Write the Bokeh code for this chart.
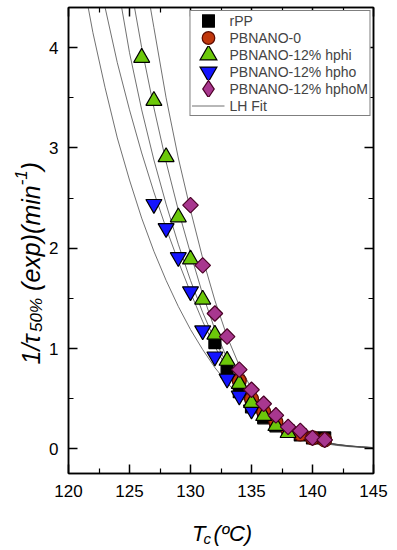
import math
from bokeh.plotting import figure
from bokeh.models import (Range1d, FixedTicker, LinearAxis, Legend, LegendItem, Label,
                          CustomLabelingPolicy)
from bokeh.layouts import row, column
from bokeh.embed import file_html
from bokeh.resources import INLINE

# ---------------- data ----------------
rpp_t = [132, 133, 134, 135, 136, 137, 138, 139, 140, 141]
rpp_v = [1.06, 0.77, 0.57, 0.42, 0.31, 0.23, 0.18, 0.14, 0.11, 0.11]

pb0_t = [134, 135, 136, 137, 138, 139, 140, 141]
pb0_v = [0.68, 0.50, 0.37, 0.27, 0.19, 0.15, 0.11, 0.09]

hphi_t = [126, 127, 128, 129, 130, 131, 132, 133, 134, 135, 136, 137, 138]
hphi_v = [3.90, 3.47, 2.91, 2.31, 1.89, 1.49, 1.14, 0.88, 0.65, 0.46, 0.33, 0.23, 0.16]

hpho_t = [127, 128, 129, 130, 131, 132, 133, 134, 135]
hpho_v = [2.44, 2.20, 1.91, 1.57, 1.18, 0.92, 0.70, 0.53, 0.39]

hphom_t = [130, 131, 132, 133, 134, 135, 136, 137, 138, 139, 140, 141]
hphom_v = [2.43, 1.83, 1.35, 1.12, 0.79, 0.59, 0.45, 0.335, 0.22, 0.18, 0.11, 0.09]

# LH fit curves
fit1_t = [121, 122, 123, 124, 125, 126, 127, 128, 129, 130, 131, 132, 133, 134, 135, 136, 137, 138, 139, 140, 141, 142, 143, 144, 145]
fit1_v = [4.80, 4.15, 3.60, 3.10, 2.68, 2.30, 1.97, 1.68, 1.42, 1.19, 0.99, 0.81, 0.66, 0.53, 0.42, 0.32, 0.24, 0.18, 0.13, 0.095, 0.066, 0.045, 0.030, 0.020, 0.013]

fit2_t = [122.5, 123, 124, 125, 126, 127, 128, 129, 130, 131, 132, 133, 134, 135, 136, 137, 138, 139, 140, 141, 142, 143, 144, 145]
fit2_v = [4.85, 4.40, 3.85, 3.38, 2.95, 2.56, 2.20, 1.87, 1.56, 1.27, 1.02, 0.80, 0.61, 0.46, 0.34, 0.25, 0.18, 0.13, 0.09, 0.063, 0.043, 0.029, 0.019, 0.012]

fit3_t = [124, 125, 126, 127, 128, 129, 130, 131, 132, 133, 134, 135, 136, 137, 138, 139, 140, 141, 142, 143, 144, 145]
fit3_v = [4.65, 3.95, 3.38, 2.88, 2.44, 2.04, 1.68, 1.36, 1.08, 0.84, 0.64, 0.48, 0.35, 0.25, 0.18, 0.13, 0.09, 0.06, 0.04, 0.027, 0.018, 0.011]

fit4_t = [125, 126, 127, 128, 129, 130, 131, 132, 133, 134, 135, 136, 137, 138, 139, 140, 141, 142, 143, 144, 145]
fit4_v = [4.68, 4.00, 3.40, 2.86, 2.38, 1.95, 1.54, 1.19, 0.90, 0.67, 0.49, 0.35, 0.25, 0.17, 0.12, 0.08, 0.053, 0.035, 0.023, 0.015, 0.010]

fit5_t = [126.5, 127, 128, 129, 130, 131, 132, 133, 134, 135, 136, 137, 138, 139, 140, 141, 142, 143, 144, 145]
fit5_v = [4.55, 4.20, 3.50, 2.90, 2.38, 1.90, 1.48, 1.12, 0.83, 0.60, 0.43, 0.30, 0.21, 0.145, 0.10, 0.068, 0.046, 0.031, 0.021, 0.014]

x_ticks = [120, 125, 130, 135, 140, 145]
x_minor = [122.5, 127.5, 132.5, 137.5, 142.5]
y_ticks = [0, 1, 2, 3, 4]
y_minor = [-0.5, 0.5, 1.5, 2.5, 3.5]

series_names = ["rPP", "PBNANO-0", "PBNANO-12% hphi", "PBNANO-12% hpho", "PBNANO-12% hphoM", "LH Fit"]
x_title = ["T", "c", "(ºC)"]
y_title = ["1/τ", "50%", "(exp)(min", "-1", ")"]

NAN = [float("nan")]

# ---------------- main figure ----------------
FONT = "Liberation Sans"
p = figure(width=351, height=505, output_backend="svg", toolbar_location=None,
           x_range=Range1d(120, 145), y_range=Range1d(-0.245, 4.40),
           min_border_left=22, min_border_right=24, min_border_top=7, min_border_bottom=32)
p.grid.visible = False
p.outline_line_color = "black"
p.outline_line_width = 1.5
p.background_fill_color = "white"
p.border_fill_color = "white"

def style_axis(ax, ticks, minor, show_labels, standoff=10):
    ax.ticker = FixedTicker(ticks=ticks, minor_ticks=minor)
    ax.axis_line_color = "black"
    ax.axis_line_width = 1.5
    ax.major_tick_in = 9
    ax.major_tick_out = 0
    ax.minor_tick_in = 5
    ax.minor_tick_out = 0
    ax.major_tick_line_width = 1.5
    ax.minor_tick_line_width = 1.2
    ax.major_tick_line_color = "black"
    ax.minor_tick_line_color = "black"
    if show_labels:
        ax.major_label_text_font = FONT
        ax.major_label_text_font_size = "17px"
        ax.major_label_text_color = "black"
        ax.major_label_standoff = standoff
    else:
        ax.major_label_policy = CustomLabelingPolicy(code="return new Set()")
        ax.major_label_text_font_size = "0px"
        ax.major_label_standoff = 0

style_axis(p.xaxis[0], x_ticks, x_minor, True, 11)
style_axis(p.yaxis[0], y_ticks, y_minor, True, 10)
top_ax = LinearAxis()
right_ax = LinearAxis()
style_axis(top_ax, x_ticks, x_minor, False)
style_axis(right_ax, y_ticks, y_minor, False)
p.add_layout(top_ax, "above")
p.add_layout(right_ax, "right")

# fit lines
fit_renderers = []
for ft, fv in [(fit1_t, fit1_v), (fit2_t, fit2_v), (fit3_t, fit3_v), (fit4_t, fit4_v), (fit5_t, fit5_v)]:
    r = p.line(ft, fv, line_color="#4d4d4d", line_width=0.8)
    fit_renderers.append(r)

C_PB0, E_PB0 = "#c0370c", "#5a0a00"
C_HPHI = "#6cc80a"
C_HPHO = "#1414ff"
C_HPHOM, E_HPHOM = "#a8378f", "#4a0025"

r_rpp = p.scatter(rpp_t, rpp_v, marker="square", size=12, fill_color="black", line_color="black", line_width=1.2)
r_pb0 = p.scatter(pb0_t, pb0_v, marker="circle", size=14, fill_color=C_PB0, line_color=E_PB0, line_width=1.2)
r_hpho = p.scatter(hpho_t, hpho_v, marker="inverted_triangle", size=16, fill_color=C_HPHO, line_color="black", line_width=1.2)
r_hphi = p.scatter(hphi_t, hphi_v, marker="triangle", size=16, fill_color=C_HPHI, line_color="black", line_width=1.2)
r_hphom = p.scatter(hphom_t, hphom_v, marker="square", angle=math.pi / 4, size=11, fill_color=C_HPHOM, line_color=E_HPHOM, line_width=1.2)

# legend swatches (no data points: NaN), drawn larger through thick mitred outlines
def swatch(marker, fill, edge, outer=7.0, inner=4.6):
    a = p.scatter(x=NAN, y=NAN, marker=marker, fill_color=fill, line_color=edge,
                  line_width=outer, line_join="miter")
    b = p.scatter(x=NAN, y=NAN, marker=marker, fill_color=fill, line_color=fill,
                  line_width=inner, line_join="miter")
    return [a, b]

legend = Legend(items=[
    LegendItem(label=series_names[0], renderers=swatch("square", "black", "black", 6.0, 6.0)),
    LegendItem(label=series_names[1], renderers=swatch("circle", C_PB0, E_PB0)),
    LegendItem(label=series_names[2], renderers=swatch("triangle", C_HPHI, "black")),
    LegendItem(label=series_names[3], renderers=swatch("inverted_triangle", C_HPHO, "black")),
    LegendItem(label=series_names[4], renderers=swatch("diamond", C_HPHOM, E_HPHOM)),
    LegendItem(label=series_names[5], renderers=[fit_renderers[0]]),
], location="top_right")
legend.margin = 3
legend.padding = 1
legend.spacing = 0
legend.glyph_width = 33
legend.glyph_height = 17
legend.label_height = 17
legend.label_standoff = 5
legend.label_text_font = FONT
legend.label_text_font_size = "14px"
legend.border_line_color = "black"
legend.border_line_width = 1
legend.background_fill_alpha = 1
p.add_layout(legend)

# ---------------- axis titles (SVG text in small frame-only figures) ----------------
def blank_fig(w, h):
    f = figure(width=w, height=h, output_backend="svg", toolbar_location=None,
               x_range=Range1d(0, w), y_range=Range1d(h, 0),
               x_axis_type=None, y_axis_type=None, min_border=0)
    f.outline_line_color = None
    f.grid.visible = False
    f.background_fill_color = "white"
    f.border_fill_color = "white"
    return f

def lab(f, text, x, y, size, angle=0.0):
    f.add_layout(Label(x=x, y=y, text=text, angle=angle, text_align="left",
                       text_baseline="alphabetic", text_font=FONT, text_font_style="italic",
                       text_font_size=size, text_color="black"))

xfig = blank_fig(351, 44)
lab(xfig, x_title[0], 142, 28, "22px")
lab(xfig, x_title[1], 155.5, 33, "15px")
lab(xfig, x_title[2], 167, 28, "22px")

yfig = blank_fig(46, 549)
A = math.pi / 2
lab(yfig, y_title[0], 30, 364, "25px", A)
lab(yfig, y_title[1], 35.5, 331.4, "17px", A)
lab(yfig, y_title[2], 30, 290.4, "25px", A)
lab(yfig, y_title[3], 20, 184.8, "17px", A)
lab(yfig, y_title[4], 30, 169.7, "25px", A)

layout = row(yfig, column(p, xfig, spacing=0), spacing=0)

open("out.html", "w").write(file_html(layout, INLINE))
